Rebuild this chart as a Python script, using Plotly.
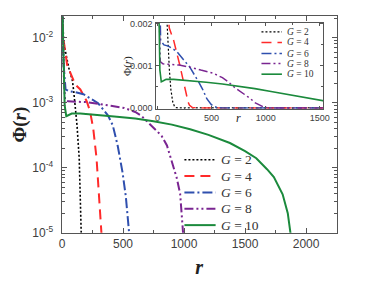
import plotly.graph_objects as go

# ---------------- data ----------------
G_values = [2, 4, 6, 8, 10]

r_G2 = [0, 13, 56, 85, 96, 110, 123, 141, 157, 168, 200, 2500]
phi_G2 = [0.05, 8.5e-3, 3.4e-3, 2.2e-3, 1.5e-3, 9.0e-4, 4.5e-4, 1.4e-4, 3.7e-5, 1.0e-5, 1e-8, 1e-9]

r_G4 = [0, 8, 42, 109, 150, 203, 229, 256, 283, 296, 310, 323, 360, 2500]
phi_G4 = [0.05, 1.07e-2, 3.8e-3, 1.9e-3, 1.6e-3, 1.05e-3, 7.5e-4, 4.0e-4, 1.4e-4, 6.5e-5, 2.9e-5,
          1.0e-5, 1e-8, 1e-9]

r_G6 = [0, 5, 15, 29, 60, 100, 176, 239, 296, 376, 416, 456, 496, 523, 550, 600, 2500]
phi_G6 = [0.05, 1.0e-2, 3.5e-3, 1.6e-3, 1.5e-3, 1.47e-3, 1.35e-3, 1.15e-3, 9.8e-4, 6.4e-4, 4.5e-4,
          2.2e-4, 8.5e-5, 3.6e-5, 1.0e-5, 1e-8, 1e-9]

r_G8 = [0, 5, 15, 25, 50, 200, 300, 400, 510, 600, 650, 712, 816, 860, 898, 940, 968, 992, 1030, 2500]
phi_G8 = [0.05, 1.0e-2, 2.5e-3, 1.1e-3, 1.05e-3, 1.02e-3, 9.7e-4, 9.0e-4, 8.3e-4, 7.2e-4, 6.3e-4,
          4.9e-4, 3.1e-4, 2.2e-4, 1.3e-4, 7.0e-5, 4.0e-5, 1.0e-5, 1e-8, 1e-9]

r_G10 = [0, 8, 15, 22, 35, 50, 80, 150, 300, 450, 600, 750, 900, 1050, 1200, 1376, 1500,
         1592, 1680, 1736, 1808, 1850, 1872, 1910, 2500]
phi_G10 = [0.05, 1.0e-2, 2.0e-3, 9.0e-4, 6.2e-4, 6.4e-4, 6.8e-4, 6.8e-4, 6.5e-4, 6.1e-4,
           5.7e-4, 5.2e-4, 4.6e-4, 3.9e-4, 3.2e-4, 2.4e-4, 1.8e-4, 1.4e-4, 9.5e-5, 7.2e-5,
           3.9e-5, 2.0e-5, 1.0e-5, 1e-8, 1e-9]

series_r = [r_G2, r_G4, r_G6, r_G8, r_G10]
series_phi = [phi_G2, phi_G4, phi_G6, phi_G8, phi_G10]
labels = [f"<i>G</i> = {g}" for g in G_values]

main_x_ticks = [0, 500, 1000, 1500, 2000]
main_y_ticks = [1e-5, 1e-4, 1e-3, 1e-2]
main_y_ticktext = ["10<sup>-5</sup>", "10<sup>-4</sup>", "10<sup>-3</sup>", "10<sup>-2</sup>"]
inset_x_ticks = [0, 500, 1000, 1500]
inset_y_ticks = [0.0, 0.001, 0.002]
inset_y_ticktext = ["0.000", "0.001", "0.002"]

# ---------------- styles ----------------
colors = ["#000000", "#ff2a2a", "#2f4fae", "#7a2591", "#1b8a3c"]
dashes = ["2px,2px", "10px,6px", "10px,3px,2px,3px", "9px,3px,2px,3px,2px,3px", "solid"]
widths_main = [1.6, 2.0, 2.0, 2.0, 2.0]
widths_inset = [1.2, 1.5, 1.5, 1.5, 1.6]

SERIF = "Liberation Serif, Times New Roman, serif"
SANS = "Liberation Sans, Arial, sans-serif"
W, H = 365, 285


def px_x(p):
    return p / W


def px_y(p):
    return (H - p) / H


fig = go.Figure()
for i in range(len(G_values)):
    fig.add_trace(go.Scatter(
        x=series_r[i], y=series_phi[i], mode="lines", name=labels[i],
        line=dict(color=colors[i], dash=dashes[i], width=widths_main[i]),
        xaxis="x", yaxis="y", showlegend=False))
for i in range(len(G_values)):
    fig.add_trace(go.Scatter(
        x=series_r[i], y=series_phi[i], mode="lines", name=labels[i],
        line=dict(color=colors[i], dash=dashes[i], width=widths_inset[i]),
        xaxis="x2", yaxis="y2", showlegend=False))

axis_common = dict(showline=True, linecolor="#555555", linewidth=1, mirror="ticks",
                   ticks="inside", tickcolor="#555555", showgrid=False, zeroline=False)

fig.update_layout(
    width=W, height=H, margin=dict(l=0, r=0, t=0, b=0),
    paper_bgcolor="white", plot_bgcolor="white", showlegend=False,
    xaxis=dict(**axis_common, domain=[px_x(60), px_x(342)], range=[-4, 2250],
               tickvals=main_x_ticks, ticklen=5,
               minor=dict(dtick=250, tick0=0, ticks="inside", ticklen=3, tickcolor="#555555"),
               tickfont=dict(family=SANS, size=12, color="#404040"),
               title=dict(text="<b><i>r</i></b>", font=dict(family=SERIF, size=20, color="#222222"),
                          standoff=9),
               anchor="y"),
    yaxis=dict(**axis_common, domain=[px_y(238), px_y(13)], type="log", range=[-5, -1.675],
               tickvals=main_y_ticks, ticktext=main_y_ticktext, ticklen=5,
               minor=dict(dtick="D1", ticks="inside", ticklen=3, tickcolor="#555555"),
               tickfont=dict(family=SANS, size=12, color="#404040"), ticklabelstandoff=5,
               title=dict(text="<b>Φ(<i>r</i>)</b>", font=dict(family=SERIF, size=19, color="#222222"),
                          standoff=0),
               anchor="x"),
    xaxis2=dict(**axis_common, domain=[px_x(157.3), px_x(328.3)], range=[-10, 1532],
                tickvals=inset_x_ticks, ticklen=3,
                minor=dict(dtick=250, tick0=0, ticks="inside", ticklen=2, tickcolor="#555555"),
                tickfont=dict(family=SANS, size=9, color="#404040"),
                anchor="y2"),
    yaxis2=dict(**axis_common, domain=[px_y(109), px_y(19.3)], range=[-0.00002, 0.00203],
                tickvals=inset_y_ticks, ticktext=inset_y_ticktext, ticklen=3,
                minor=dict(dtick=0.0005, tick0=0, ticks="inside", ticklen=2, tickcolor="#555555"),
                tickfont=dict(family=SANS, size=9, color="#404040"), ticklabelstandoff=1,
                anchor="x2"),
)

# inset axis titles (placed over the tick-label rows as in the reference)
fig.add_annotation(xref="paper", yref="paper", x=px_x(241), y=px_y(118.5), text="<i>r</i>",
                   showarrow=False, xanchor="center", yanchor="middle",
                   font=dict(family=SERIF, size=12, color="#222222"))
fig.add_annotation(xref="paper", yref="paper", x=px_x(127.5), y=px_y(64), text="Φ(<i>r</i>)",
                   showarrow=False, textangle=-90, xanchor="center", yanchor="middle",
                   font=dict(family=SERIF, size=11, color="#222222"))

# legends (drawn manually to keep the reference's compact row spacing)
main_rows = [162, 179, 196, 213, 230]
inset_rows = [29, 40, 51.5, 62, 73]
for i in range(len(G_values)):
    fig.add_shape(type="line", xref="paper", yref="paper",
                  x0=px_x(186), x1=px_x(218), y0=px_y(main_rows[i]), y1=px_y(main_rows[i]),
                  line=dict(color=colors[i], dash=dashes[i], width=widths_main[i]))
    fig.add_annotation(xref="paper", yref="paper", x=px_x(221), y=px_y(main_rows[i]),
                       text=labels[i], showarrow=False, xanchor="left", yanchor="middle",
                       font=dict(family=SERIF, size=13.5, color="#333333"))
    fig.add_shape(type="line", xref="paper", yref="paper",
                  x0=px_x(265), x1=px_x(286), y0=px_y(inset_rows[i]), y1=px_y(inset_rows[i]),
                  line=dict(color=colors[i], dash=dashes[i], width=widths_inset[i]))
    fig.add_annotation(xref="paper", yref="paper", x=px_x(289), y=px_y(inset_rows[i]),
                       text=labels[i], showarrow=False, xanchor="left", yanchor="middle",
                       font=dict(family=SERIF, size=9.5, color="#333333"))

fig.write_html("out.html", config={"displayModeBar": False},
               post_script="document.body.style.margin='0';")
